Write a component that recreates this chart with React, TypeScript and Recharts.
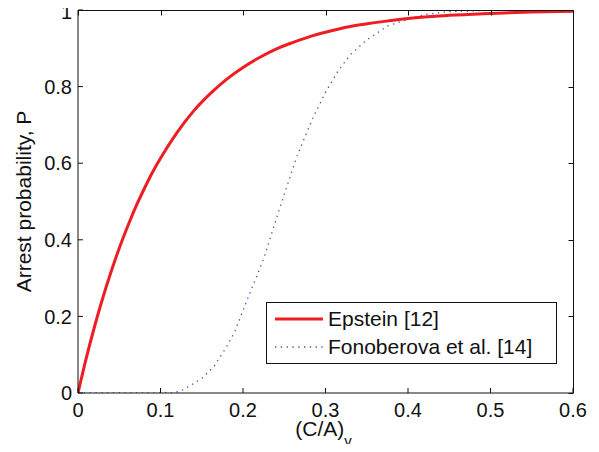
import { Label, Legend, Line, LineChart, XAxis, YAxis } from "recharts";

// Epstein [12] curve
const epsteinX = [
  0, 0.01, 0.02, 0.03, 0.04, 0.05, 0.06, 0.07, 0.08, 0.09, 0.1, 0.12, 0.14,
  0.16, 0.18, 0.2, 0.22, 0.24, 0.26, 0.28, 0.3, 0.33, 0.36, 0.4, 0.45, 0.5,
  0.55, 0.6,
];
const epsteinP = [
  0, 0.091, 0.173, 0.248, 0.316, 0.378, 0.434, 0.486, 0.532, 0.575, 0.613,
  0.68, 0.736, 0.781, 0.819, 0.85, 0.876, 0.898, 0.915, 0.93, 0.942, 0.957,
  0.967, 0.978, 0.986, 0.991, 0.995, 0.997,
];

// Fonoberova et al. [14] curve
const fonoX = [
  0, 0.05, 0.1, 0.115, 0.125, 0.135, 0.15, 0.165, 0.18, 0.19, 0.205, 0.225,
  0.245, 0.265, 0.285, 0.3, 0.315, 0.33, 0.35, 0.375, 0.4, 0.42, 0.45, 0.5,
  0.55, 0.6,
];
const fonoP = [
  0, 0, 0, 0, 0.006, 0.018, 0.038, 0.07, 0.12, 0.16, 0.243, 0.35, 0.486,
  0.616, 0.72, 0.785, 0.84, 0.883, 0.922, 0.958, 0.976, 0.988, 0.996, 0.999,
  1, 1,
];

const xTicks = [0, 0.1, 0.2, 0.3, 0.4, 0.5, 0.6];
const yTicks = [0, 0.2, 0.4, 0.6, 0.8, 1];
const seriesNames = ["Epstein [12]", "Fonoberova et al. [14]"];

const epstein = epsteinX.map((x, i) => ({ x, p: epsteinP[i] }));
const fono = fonoX.map((x, i) => ({ x, p: fonoP[i] }));

const X_MAX = 0.6;
const Y_MAX = 1;

// plot box in px (margins + axis sizes below)
const PLOT = { left: 78, top: 10, width: 495, height: 383 };

const FONT = '"Liberation Sans", Arial, Helvetica, sans-serif';
const INK = "#111";
const RED = "#ee1d23";
const BLUE = "#3a4fc4";
const DOTS = "1.3 4.5";

const tickStyle = { fontSize: 20, fill: INK, fontFamily: FONT };

const XTitle = (props: any) => {
  const { x, y, width } = props.viewBox;
  return (
    <text
      x={x + width / 2 - 2}
      y={y + 43}
      textAnchor="middle"
      fontSize={21}
      fontFamily={FONT}
      fill={INK}
    >
      (C/A)
      <tspan fontSize={15} dy={10}>
        v
      </tspan>
    </text>
  );
};

const LegendBox = () => (
  <div
    style={{
      width: 291,
      height: 62,
      boxSizing: "border-box",
      border: `1.5px solid ${INK}`,
      background: "#fff",
      fontFamily: FONT,
      fontSize: 21,
      color: INK,
      paddingTop: 2,
    }}
  >
    {seriesNames.map((name, i) => (
      <div
        key={name}
        style={{ display: "flex", alignItems: "center", height: 28 }}
      >
        <svg width={61} height={28}>
          <line
            x1={8}
            x2={56}
            y1={14}
            y2={14}
            stroke={i === 0 ? RED : BLUE}
            strokeWidth={i === 0 ? 3 : 1.3}
            strokeDasharray={i === 0 ? undefined : DOTS}
          />
        </svg>
        <span>{name}</span>
      </div>
    ))}
  </div>
);

// top and right edges of the box, with inward ticks (matlab style)
const Frame = () => (
  <svg
    width={PLOT.width + 1}
    height={PLOT.height + 1}
    style={{
      position: "absolute",
      left: PLOT.left,
      top: PLOT.top - 0.5,
      pointerEvents: "none",
      overflow: "visible",
    }}
  >
    <g stroke={INK} strokeWidth={1}>
      <line x1={0} x2={PLOT.width} y1={0.5} y2={0.5} />
      <line x1={PLOT.width + 0.5} x2={PLOT.width + 0.5} y1={0} y2={PLOT.height} />
      {xTicks.map((t) => {
        const px = Math.round((t / X_MAX) * PLOT.width) + 0.5;
        return <line key={`x${t}`} x1={px} x2={px} y1={0.5} y2={5.5} />;
      })}
      {yTicks.map((t) => {
        const py = Math.round((1 - t / Y_MAX) * PLOT.height) + 0.5;
        return (
          <line
            key={`y${t}`}
            x1={PLOT.width - 4.5}
            x2={PLOT.width + 0.5}
            y1={py}
            y2={py}
          />
        );
      })}
    </g>
  </svg>
);

const App = () => {
  return (
    <div
      style={{
        position: "relative",
        margin: -8,
        width: 599,
        height: 452,
        background: "#fff",
      }}
    >
      <LineChart
        width={599}
        height={452}
        margin={{ top: PLOT.top, right: 26, bottom: 0, left: 0 }}
      >
        <XAxis
          dataKey="x"
          type="number"
          domain={[0, X_MAX]}
          ticks={xTicks}
          allowDataOverflow
          height={59}
          stroke={INK}
          tickSize={-5}
          tickMargin={15}
          tick={tickStyle}
        >
          <Label content={(p: any) => <XTitle {...p} />} />
        </XAxis>
        <YAxis
          type="number"
          domain={[0, Y_MAX]}
          ticks={yTicks}
          allowDataOverflow
          width={PLOT.left}
          stroke={INK}
          tickSize={-5}
          tickMargin={11}
          tick={tickStyle}
          label={{
            value: "Arrest probability, P",
            angle: -90,
            position: "insideLeft",
            offset: 24,
            style: {
              textAnchor: "middle",
              fontSize: 21,
              fill: INK,
              fontFamily: FONT,
            },
          }}
        />
        <Line
          data={fono}
          dataKey="p"
          name={seriesNames[1]}
          type="linear"
          stroke={BLUE}
          strokeWidth={1.3}
          strokeDasharray={DOTS}
          dot={false}
          isAnimationActive={false}
        />
        <Line
          data={epstein}
          dataKey="p"
          name={seriesNames[0]}
          type="monotone"
          stroke={RED}
          strokeWidth={3}
          dot={false}
          isAnimationActive={false}
        />
        <Legend
          layout="vertical"
          align="center"
          verticalAlign="middle"
          wrapperStyle={{ left: 266, top: 302, width: 291, height: 62 }}
          content={() => <LegendBox />}
        />
      </LineChart>
      <Frame />
    </div>
  );
};

export default App;
